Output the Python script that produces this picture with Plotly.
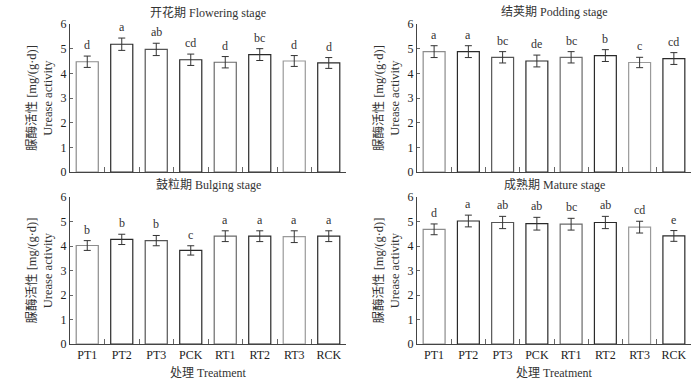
import plotly.graph_objects as go
from plotly.subplots import make_subplots

treatments = ["PT1", "PT2", "PT3", "PCK", "RT1", "RT2", "RT3", "RCK"]

flowering_vals = [4.47, 5.18, 4.97, 4.55, 4.45, 4.76, 4.50, 4.42]
flowering_err = [0.23, 0.25, 0.25, 0.23, 0.23, 0.24, 0.22, 0.22]
flowering_letters = ["d", "a", "ab", "cd", "d", "bc", "d", "d"]

podding_vals = [4.88, 4.88, 4.65, 4.50, 4.65, 4.72, 4.44, 4.60]
podding_err = [0.24, 0.24, 0.23, 0.24, 0.23, 0.24, 0.21, 0.24]
podding_letters = ["a", "a", "bc", "de", "bc", "b", "c", "cd"]

bulging_vals = [4.02, 4.27, 4.22, 3.82, 4.40, 4.40, 4.38, 4.40]
bulging_err = [0.20, 0.21, 0.21, 0.19, 0.22, 0.22, 0.24, 0.22]
bulging_letters = ["b", "b", "b", "c", "a", "a", "a", "a"]

mature_vals = [4.68, 5.02, 4.96, 4.91, 4.89, 4.96, 4.77, 4.41]
mature_err = [0.22, 0.24, 0.25, 0.26, 0.24, 0.25, 0.24, 0.22]
mature_letters = ["d", "a", "ab", "ab", "bc", "ab", "cd", "e"]

titles = ["开花期 Flowering stage", "结荚期 Podding stage", "鼓粒期 Bulging stage", "成熟期 Mature stage"]
y_title = "脲酶活性 [mg/(g·d)]<br>Urease activity"
x_title = "处理 Treatment"

edge_colors = ["#8c8c8c", "#2a2a2a", "#555555", "#2a2a2a", "#6a6a6a", "#2a2a2a", "#9a9a9a", "#2a2a2a"]

FONT = "Liberation Serif, Times New Roman, Noto Sans CJK SC, serif"

W, H = 700, 384
xdoms = [(70 / W, 346 / W), (417 / W, 691 / W)]
ydoms = [(1 - 172 / H, 1 - 24 / H), (1 - 344 / H, 1 - 197 / H)]

fig = make_subplots(rows=2, cols=2)

panels = [
    (1, 1, flowering_vals, flowering_err, flowering_letters),
    (1, 2, podding_vals, podding_err, podding_letters),
    (2, 1, bulging_vals, bulging_err, bulging_letters),
    (2, 2, mature_vals, mature_err, mature_letters),
]

for idx, (r, c, vals, errs, letters) in enumerate(panels):
    fig.add_trace(
        go.Bar(
            x=treatments, y=vals,
            marker=dict(color="white", line=dict(color=edge_colors, width=1.2)),
            error_y=dict(type="data", array=errs, visible=True, color="#333333", thickness=1, width=3.5),
            showlegend=False,
        ),
        row=r, col=c,
    )
    n = idx + 1
    xa = "x" if n == 1 else f"x{n}"
    ya = "y" if n == 1 else f"y{n}"
    for t, v, e, L in zip(treatments, vals, errs, letters):
        fig.add_annotation(
            x=t, y=v + e, xref=xa, yref=ya, text=L, showarrow=False,
            xanchor="center", yanchor="bottom", yshift=2,
            font=dict(family=FONT, size=12, color="#333333"),
        )
    xd = xdoms[c - 1]
    yd = ydoms[r - 1]
    # panel title
    fig.add_annotation(
        x=(xd[0] + xd[1]) / 2, y=(1 - 12 / H) if r == 1 else (1 - 185 / H),
        xref="paper", yref="paper", text=titles[idx], showarrow=False,
        xanchor="center", yanchor="middle", font=dict(family=FONT, size=12, color="#333333"),
    )
    # y-axis title
    fig.add_annotation(
        x=xd[0] - 31 / W, y=(yd[0] + yd[1]) / 2,
        xref="paper", yref="paper", text=y_title, showarrow=False, textangle=-90,
        xanchor="center", yanchor="middle",
        font=dict(family=FONT, size=12.5, color="#333333"),
    )
    if r == 2:
        fig.add_annotation(
            x=(xd[0] + xd[1]) / 2, y=1 - 373 / H,
            xref="paper", yref="paper", text=x_title, showarrow=False,
            xanchor="center", yanchor="middle", font=dict(family=FONT, size=12, color="#333333"),
        )
    fig.update_xaxes(
        domain=list(xd), row=r, col=c, automargin=False,
        showline=True, linecolor="#444444", linewidth=1,
        ticks="inside", tickson="boundaries", ticklen=5, tickcolor="#666666",
        showticklabels=(r == 2), showgrid=False,
        tickfont=dict(family=FONT, size=12, color="#222222"),
    )
    fig.update_yaxes(
        domain=list(yd), row=r, col=c, range=[0, 6], dtick=1, automargin=False,
        showline=True, linecolor="#444444", linewidth=1,
        ticks="inside", ticklen=3, tickcolor="#666666", showgrid=False, zeroline=False,
        tickfont=dict(family=FONT, size=12, color="#222222"),
    )

fig.update_layout(
    width=W, height=H,
    margin=dict(l=0, r=0, t=0, b=0),
    paper_bgcolor="white", plot_bgcolor="white",
    bargap=0.36,
    font=dict(family=FONT, color="#333333"),
)

fig.write_html(
    "out.html",
    config={"displayModeBar": False},
    post_script="document.body.style.margin='0px';document.body.style.padding='0px';",
)
